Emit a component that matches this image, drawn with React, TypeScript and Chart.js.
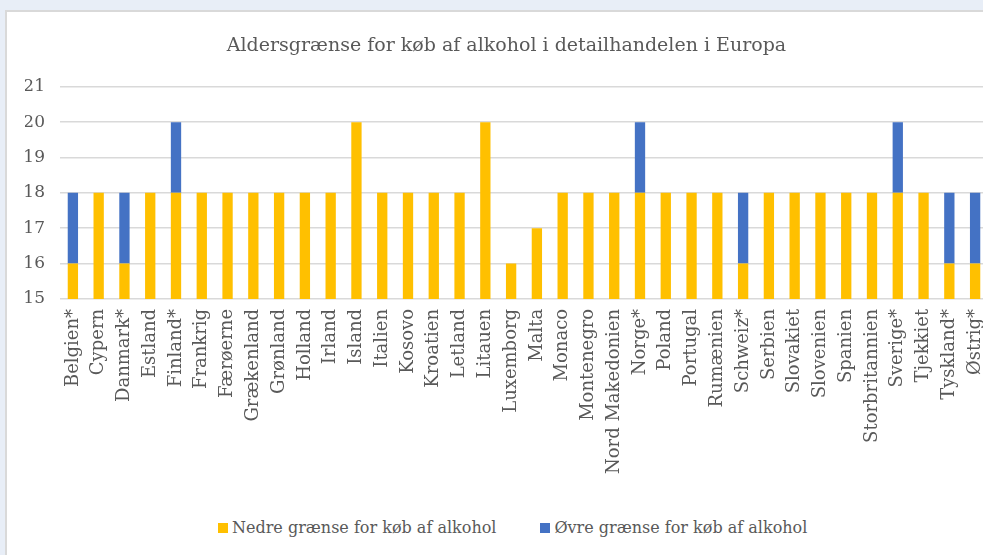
import React, { useEffect, useRef } from "react";
import { Chart, registerables } from "chart.js";

Chart.register(...registerables);

const categories = [
  "Belgien*", "Cypern", "Danmark*", "Estland", "Finland*", "Frankrig", "Færøerne",
  "Grækenland", "Grønland", "Holland", "Irland", "Island", "Italien", "Kosovo",
  "Kroatien", "Letland", "Litauen", "Luxemborg", "Malta", "Monaco", "Montenegro",
  "Nord Makedonien", "Norge*", "Poland", "Portugal", "Rumænien", "Schweiz*", "Serbien",
  "Slovakiet", "Slovenien", "Spanien", "Storbritannien", "Sverige*", "Tjekkiet",
  "Tyskland*", "Østrig*",
];

const nedre = [
  16, 18, 16, 18, 18, 18, 18, 18, 18, 18, 18, 20, 18, 18, 18, 18, 20, 16, 17, 18, 18,
  18, 18, 18, 18, 18, 16, 18, 18, 18, 18, 18, 18, 18, 16, 16,
];

const oevre = [
  2, 0, 2, 0, 2, 0, 0, 0, 0, 0, 0, 0, 0, 0, 0, 0, 0, 0, 0, 0, 0,
  0, 2, 0, 0, 0, 2, 0, 0, 0, 0, 0, 2, 0, 2, 2,
];

const seriesNames = ["Nedre grænse for køb af alkohol", "Øvre grænse for køb af alkohol"];
const seriesColors = ["#FFC000", "#4472C4"];
const chartTitle = "Aldersgrænse for køb af alkohol i detailhandelen i Europa";
const yMin = 15;
const yMax = 21;

const FONT = "'DejaVu Serif', serif";
const TEXT = "#595959";

export default function App() {
  const ref = useRef<HTMLCanvasElement | null>(null);

  useEffect(() => {
    document.body.style.margin = "0";
    const ctx = ref.current!;
    const chart = new Chart(ctx, {
      type: "bar",
      data: {
        labels: categories,
        datasets: [
          {
            label: seriesNames[0],
            data: nedre,
            backgroundColor: seriesColors[0],
            categoryPercentage: 1,
            barPercentage: 0.4,
          },
          {
            label: seriesNames[1],
            data: oevre,
            backgroundColor: seriesColors[1],
            categoryPercentage: 1,
            barPercentage: 0.4,
          },
        ],
      },
      options: {
        responsive: false,
        animation: false,
        layout: { padding: { left: 18, right: 19, top: 10, bottom: 36 } },
        plugins: {
          title: {
            display: true,
            text: chartTitle,
            color: TEXT,
            font: { family: FONT, size: 19, weight: "normal" },
            padding: { top: 13, bottom: 29 },
          },
          legend: { display: false },
          tooltip: { enabled: false },
        },
        scales: {
          x: {
            stacked: true,
            grid: { display: false },
            border: { display: false },
            ticks: {
              color: TEXT,
              font: { family: FONT, size: 18 },
              maxRotation: 90,
              minRotation: 90,
              autoSkip: false,
              padding: 2,
            },
          },
          y: {
            stacked: true,
            min: yMin,
            max: yMax,
            afterFit: (scale: any) => {
              scale.width = 35;
            },
            grid: { color: "#D9D9D9", lineWidth: 1.5, drawTicks: false },
            border: { display: false },
            ticks: {
              stepSize: 1,
              color: TEXT,
              font: { family: FONT, size: 17 },
              padding: 15,
            },
          },
        },
      },
    });
    return () => chart.destroy();
  }, []);

  return (
    <div
      style={{
        position: "relative",
        width: 983,
        height: 555,
        overflow: "hidden",
        background: "#E8EEF7",
      }}
    >
      <div
        style={{
          position: "absolute",
          left: 5,
          top: 10,
          width: 1010,
          height: 560,
          background: "#FFFFFF",
          border: "2px solid #D9D9D9",
          boxSizing: "border-box",
        }}
      >
        <canvas ref={ref} width={1000} height={500} style={{ display: "block" }} />
      </div>
      <div
        style={{
          position: "absolute",
          left: 218,
          top: 517,
          display: "flex",
          alignItems: "center",
          gap: 44,
          fontFamily: FONT,
          fontSize: 16,
          color: TEXT,
          lineHeight: "22px",
          whiteSpace: "nowrap",
        }}
      >
        {seriesNames.map((name, i) => (
          <div key={name} style={{ display: "flex", alignItems: "center", gap: 4 }}>
            <span style={{ width: 10, height: 10, background: seriesColors[i], display: "inline-block" }} />
            <span>{name}</span>
          </div>
        ))}
      </div>
    </div>
  );
}
